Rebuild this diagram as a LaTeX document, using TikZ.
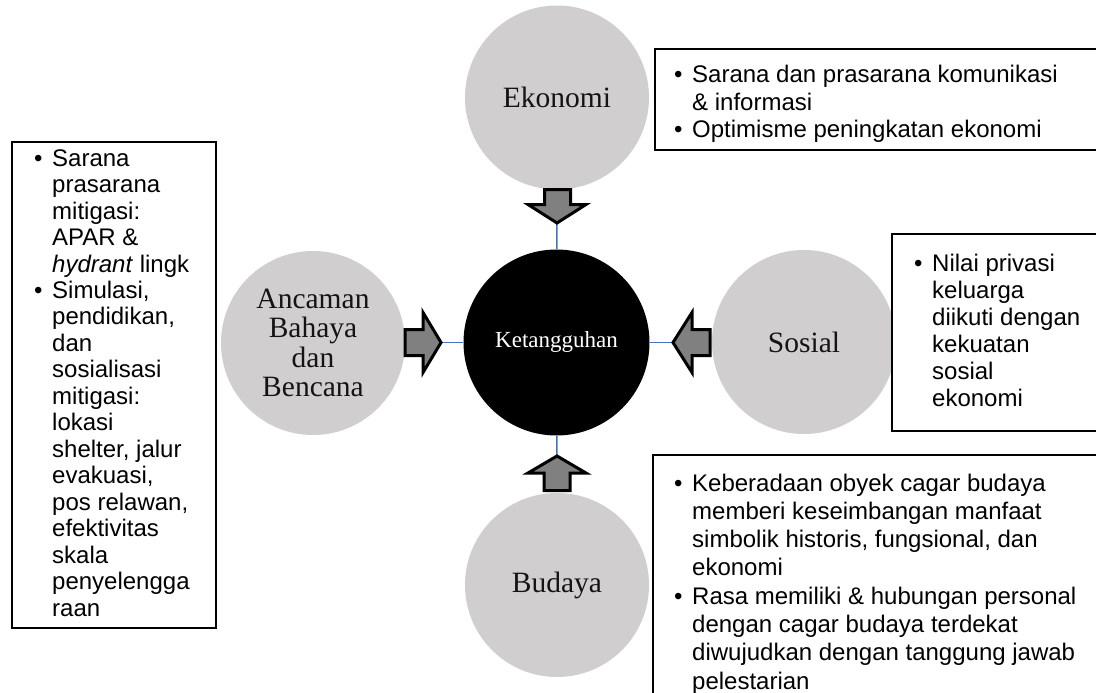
\documentclass[tikz,border=0pt]{standalone}
\usepackage{fontspec}
\setmainfont{Liberation Serif}
\newfontfamily\arialf{Liberation Sans}
\definecolor{circgray}{RGB}{208,206,206}
\definecolor{arrgray}{RGB}{128,128,128}
\definecolor{linkblue}{RGB}{68,114,196}
\begin{document}
\begin{tikzpicture}[x=1pt,y=-1pt,
  topic/.style={circle, fill=circgray, minimum size=184pt, inner sep=0pt,
    font=\fontsize{29.5}{29.5}\selectfont, align=center, text=black!92},
  core/.style={circle, fill=black, minimum size=186pt, inner sep=0pt,
    text=white, font=\fontsize{23}{23}\selectfont},
  blockarrow/.style={draw=black, line width=3pt, fill=arrgray, miter limit=10},
  link/.style={draw=linkblue, line width=1.5pt},
  infobox/.style={draw=black, line width=1.5pt, fill=white},
  info/.style={inner sep=0pt, anchor=base west, font=\arialf\fontsize{24}{#1}\selectfont},
  info/.default=27.6
]
\clip (0,0) rectangle (1096,693);
\fill[white] (0,0) rectangle (1096,693);

% circles
\node[core] (core) at (556.5,342.5) {Ketangguhan};
\node[topic] (eko) at (557,97.5) {Ekonomi};
\node[topic] (anc) at (313,343) {Ancaman\\Bahaya\\dan\\Bencana};
\node[topic] (sos) at (804,342) {Sosial};
\node[topic] (bud) at (557,585) {Budaya};

% arrow tips
\coordinate (tipT) at (557,223);
\coordinate (tipL) at (441,342.5);
\coordinate (tipR) at (673,342.5);
\coordinate (tipB) at (557,456);

% links
\draw[link] (tipT) -- (core);
\draw[link] (tipL) -- (core);
\draw[link] (tipR) -- (core);
\draw[link] (tipB) -- (core);

% block arrows
\draw[blockarrow] (544.5,189.5) -- (570.5,189.5) -- (570.5,204.5) -- (586,204.5) -- (tipT)
  -- (528,204.5) -- (544.5,204.5) -- cycle;
\draw[blockarrow] (405,329.5) -- (423,329.5) -- (423,312.5) -- (tipL) -- (423,372.5)
  -- (423,355.5) -- (405,355.5) -- cycle;
\draw[blockarrow] (710,329.5) -- (692,329.5) -- (692,312.5) -- (tipR) -- (692,372.5)
  -- (692,355.5) -- (710,355.5) -- cycle;
\draw[blockarrow] (544,490.5) -- (570,490.5) -- (570,473) -- (586,473) -- (tipB)
  -- (528,473) -- (544,473) -- cycle;

% boxes
\draw[infobox] (655,49) rectangle (1110,150);
\draw[infobox] (12,142) rectangle (216,628);
\draw[infobox] (892,234) rectangle (1110,431);
\draw[infobox] (653,455) rectangle (1110,710);

% texts
\node[info=27.5] (tEko) at (674,83) {\begin{tabular}[t]{@{}p{18pt}@{}l@{}}
•&Sarana dan prasarana komunikasi\\
&\& informasi\\
•&Optimisme peningkatan ekonomi
\end{tabular}};

\node[info=26.5] (tAnc) at (34,166) {\begin{tabular}[t]{@{}p{18pt}@{}l@{}}
•&Sarana\\
&prasarana\\
&mitigasi:\\
&APAR \&\\
&\textit{hydrant} lingk\\
•&Simulasi,\\
&pendidikan,\\
&dan\\
&sosialisasi\\
&mitigasi:\\
&lokasi\\
&shelter, jalur\\
&evakuasi,\\
&pos relawan,\\
&efektivitas\\
&skala\\
&penyelengga\\
&raan
\end{tabular}};

\node[info=27] (tSos) at (914,271) {\begin{tabular}[t]{@{}p{18pt}@{}l@{}}
•&Nilai privasi\\
&keluarga\\
&diikuti dengan\\
&kekuatan\\
&sosial\\
&ekonomi
\end{tabular}};

\node[info=28.3] (tBud) at (674,491) {\begin{tabular}[t]{@{}p{18pt}@{}l@{}}
•&Keberadaan obyek cagar budaya\\
&memberi keseimbangan manfaat\\
&simbolik historis, fungsional, dan\\
&ekonomi\\
•&Rasa memiliki \& hubungan personal\\
&dengan cagar budaya terdekat\\
&diwujudkan dengan tanggung jawab\\
&pelestarian
\end{tabular}};
\end{tikzpicture}
\end{document}
